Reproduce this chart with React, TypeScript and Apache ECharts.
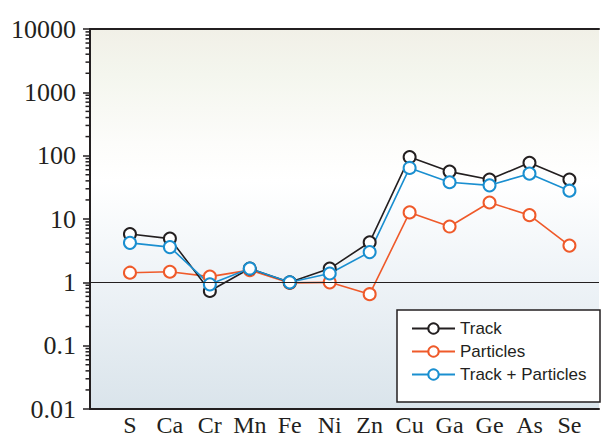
import React, { useEffect, useRef } from "react";
import * as echarts from "echarts";

const categories = ["S", "Ca", "Cr", "Mn", "Fe", "Ni", "Zn", "Cu", "Ga", "Ge", "As", "Se"];
const track = [5.8, 4.9, 0.73, 1.65, 1.0, 1.65, 4.3, 95, 56, 42, 77, 42];
const particles = [1.42, 1.47, 1.23, 1.56, 0.98, 1.0, 0.65, 12.7, 7.6, 18.2, 11.5, 3.8];
const trackPlusParticles = [4.2, 3.6, 0.93, 1.65, 1.0, 1.38, 3.0, 64, 38, 34, 52, 28];
const yTickLabels = ["0.01", "0.1", "1", "10", "100", "1000", "10000"];
const decades = [-2, -1, 0, 1, 2, 3];
const minorMultipliers = [2, 3, 4, 5, 6, 7, 8, 9];

const INK = "#231f20";
const X_MIN = -1;
const X_MAX = 11.74;

export default function App() {
  const ref = useRef<HTMLDivElement>(null);
  useEffect(() => {
    document.body.style.margin = "0";
    if (!ref.current) return;
    const chart = echarts.init(ref.current, undefined, { renderer: "svg" });
    const toPts = (arr: number[]) => arr.map((v, i) => [i, v]);
    const minorTicks: number[][] = [];
    decades.forEach((d) =>
      minorMultipliers.forEach((m) => minorTicks.push([X_MIN, m * Math.pow(10, d)]))
    );
    const lineSeries = (name: string, data: number[], color: string, extra: any = {}) => ({
      name,
      type: "line",
      data: toPts(data),
      color,
      symbol: "emptyCircle",
      symbolSize: 12,
      lineStyle: { color, width: 1.6 },
      itemStyle: { color, borderColor: color, borderWidth: 1.6 },
      ...extra,
    });
    chart.setOption({
      animation: false,
      grid: {
        left: 90,
        top: 29,
        right: 0,
        bottom: 25,
        show: true,
        borderWidth: 0,
        backgroundColor: new echarts.graphic.LinearGradient(0, 0, 0, 1, [
          { offset: 0, color: "#f1f0e7" },
          { offset: 0.12, color: "#f4f6ee" },
          { offset: 0.3, color: "#fcfcfa" },
          { offset: 0.4, color: "#ffffff" },
          { offset: 0.66, color: "#eef3f7" },
          { offset: 1, color: "#dae4eb" },
        ]),
      },
      graphic: [
        {
          type: "rect",
          shape: { x: 397, y: 310, width: 203, height: 92 },
          style: { fill: "#ffffff", stroke: INK, lineWidth: 1.5 },
          z: 3,
        },
      ],
      legend: {
        data: ["Track", "Particles", "Track + Particles"],
        orient: "vertical",
        left: 397,
        top: 310,
        z: 6,
        itemWidth: 43,
        itemHeight: 13,
        itemGap: 6,
        padding: [10, 10, 14, 14],
        textStyle: { fontFamily: "Liberation Sans", fontSize: 17, color: INK },
      },
      xAxis: [
        {
          type: "value",
          position: "bottom",
          min: X_MIN,
          max: X_MAX,
          interval: 1,
          axisLine: { show: true, onZero: false, lineStyle: { color: INK, width: 2 } },
          axisTick: { show: false },
          splitLine: { show: false },
          axisLabel: {
            margin: 4,
            fontFamily: "Liberation Serif",
            fontSize: 24,
            color: INK,
            formatter: (v: number) => categories[Math.round(v)] ?? "",
          },
        },
        {
          type: "value",
          position: "top",
          min: X_MIN,
          max: X_MAX,
          interval: 1,
          axisLine: { show: true, onZero: false, lineStyle: { color: INK, width: 2 } },
          axisTick: { show: false },
          splitLine: { show: false },
          axisLabel: { show: false },
        },
      ],
      yAxis: {
        type: "log",
        logBase: 10,
        min: 0.01,
        max: 10000,
        axisLine: { show: true, onZero: false, lineStyle: { color: INK, width: 2 } },
        axisTick: { show: true, length: 7, lineStyle: { color: INK, width: 1.5 } },
        splitLine: { show: false },
        axisLabel: {
          margin: 14,
          fontFamily: "Liberation Serif",
          fontSize: 26,
          color: INK,
          padding: [0, 0, 6, 0],
          formatter: (v: number) => yTickLabels[Math.round(Math.log10(v)) + 2] ?? "",
        },
      },
      series: [
        {
          type: "custom",
          coordinateSystem: "cartesian2d",
          silent: true,
          clip: false,
          data: minorTicks,
          renderItem: (params: any, api: any) => {
            const p = api.coord([api.value(0), api.value(1)]);
            return {
              type: "line",
              shape: { x1: p[0] - 4.5, y1: p[1], x2: p[0], y2: p[1] },
              style: { stroke: INK, lineWidth: 1.5 },
            };
          },
        },
        lineSeries("Particles", particles, "#ef5a2a", {
          markLine: {
            silent: true,
            symbol: "none",
            label: { show: false },
            lineStyle: { color: INK, width: 1, type: "solid" },
            data: [{ yAxis: 1 }],
          },
        }),
        lineSeries("Track", track, INK),
        lineSeries("Track + Particles", trackPlusParticles, "#1a8fd0"),
      ],
    });
    return () => chart.dispose();
  }, []);
  return <div ref={ref} style={{ width: 602, height: 437 }} />;
}
